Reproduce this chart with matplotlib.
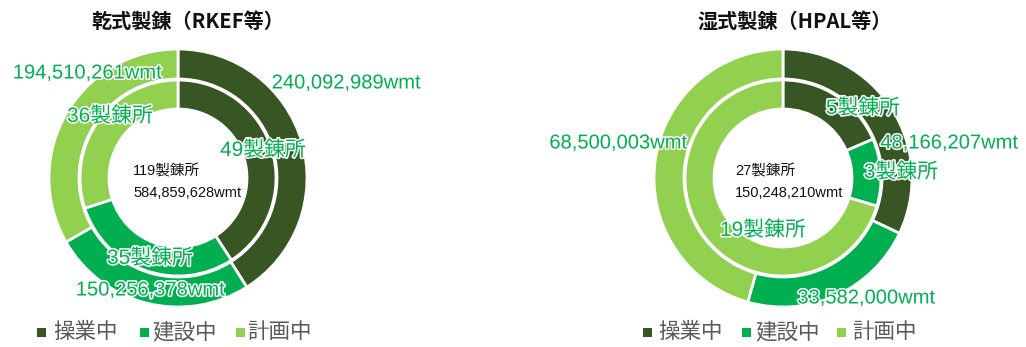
import matplotlib
matplotlib.use("Agg")
import matplotlib.pyplot as plt
import matplotlib.patheffects as pe
from matplotlib.patches import Rectangle

# ---------------- data ----------------
categories = ["操業中", "建設中", "計画中"]
colors = ["#375623", "#00B050", "#92D050"]

dry_title = "乾式製錬（RKEF等）"
dry_wmt = [240092989, 150256378, 194510261]
dry_plants = [49, 35, 36]
dry_center = ["119製錬所", "584,859,628wmt"]

wet_title = "湿式製錬（HPAL等）"
wet_wmt = [48166207, 33582000, 68500003]
wet_plants = [5, 3, 19]
wet_center = ["27製錬所", "150,248,210wmt"]

W, H = 1026, 347
fig = plt.figure(figsize=(W / 100, H / 100), dpi=100)
ax = fig.add_axes([0, 0, 1, 1])

def Y(y):  # pixel-from-top -> data y
    return H - y

LABEL_FONT = ["Liberation Sans", "Noto Sans CJK JP"]
stroke = [pe.withStroke(linewidth=2.2, foreground="white")]

def donut(cx, cy, wmt, plants, title, center, title_x,
          wmt_pos, plant_pos, center_x, legend_sq, legend_tx):
    ax.pie(wmt, radius=129, center=(cx, Y(cy)), colors=colors,
           startangle=90, counterclock=False, frame=True,
           wedgeprops=dict(width=30, edgecolor="white", linewidth=2))
    ax.pie(plants, radius=98, center=(cx, Y(cy)), colors=colors,
           startangle=90, counterclock=False, frame=True,
           wedgeprops=dict(width=29, edgecolor="white", linewidth=2))
    ax.text(title_x, Y(21), title, ha="center", va="center", fontsize=14.5,
            fontweight="bold", family=["Noto Sans CJK JP"], color="#111111")
    for v, (x, y) in zip(wmt, wmt_pos):
        ax.text(x, Y(y), f"{v:,}wmt", ha="center", va="center",
                fontsize=14.5, family=LABEL_FONT, color="#00B050",
                path_effects=stroke)
    for v, (x, y) in zip(plants, plant_pos):
        ax.text(x, Y(y), f"{v}製錬所", ha="center", va="center",
                fontsize=15, family=LABEL_FONT, color="#00B050",
                path_effects=stroke)
    ax.text(center_x, Y(cy - 7), center[0], ha="left", va="center",
            fontsize=10.5, family=LABEL_FONT, color="#111111")
    ax.text(center_x, Y(cy + 15), center[1], ha="left", va="center",
            fontsize=10.5, family=LABEL_FONT, color="#111111")
    for cat, col, sx, tx in zip(categories, colors, legend_sq, legend_tx):
        ax.add_patch(Rectangle((sx - 4.5, Y(332) - 4.5), 9, 9,
                               facecolor=col, edgecolor="none"))
        ax.text(tx, Y(332), cat, ha="left", va="center", fontsize=15.5,
                family=["Noto Sans CJK JP"], color="#595959")

donut(178, 178, dry_wmt, dry_plants, dry_title, dry_center, 188,
      wmt_pos=[(346, 83), (150, 290), (87, 73)],
      plant_pos=[(263, 150), (150, 258), (110, 116)],
      center_x=133, legend_sq=[41, 144, 240], legend_tx=[53, 152, 247])

donut(783, 178, wet_wmt, wet_plants, wet_title, wet_center, 795,
      wmt_pos=[(949, 143), (866, 298), (618, 143)],
      plant_pos=[(863, 108), (901, 172), (763, 230)],
      center_x=735, legend_sq=[647, 746, 841], legend_tx=[658, 755, 852])

ax.set_xlim(0, W)
ax.set_ylim(0, H)
ax.set_aspect("auto")
ax.axis("off")

fig.savefig("out.png", dpi=100, facecolor="white")
